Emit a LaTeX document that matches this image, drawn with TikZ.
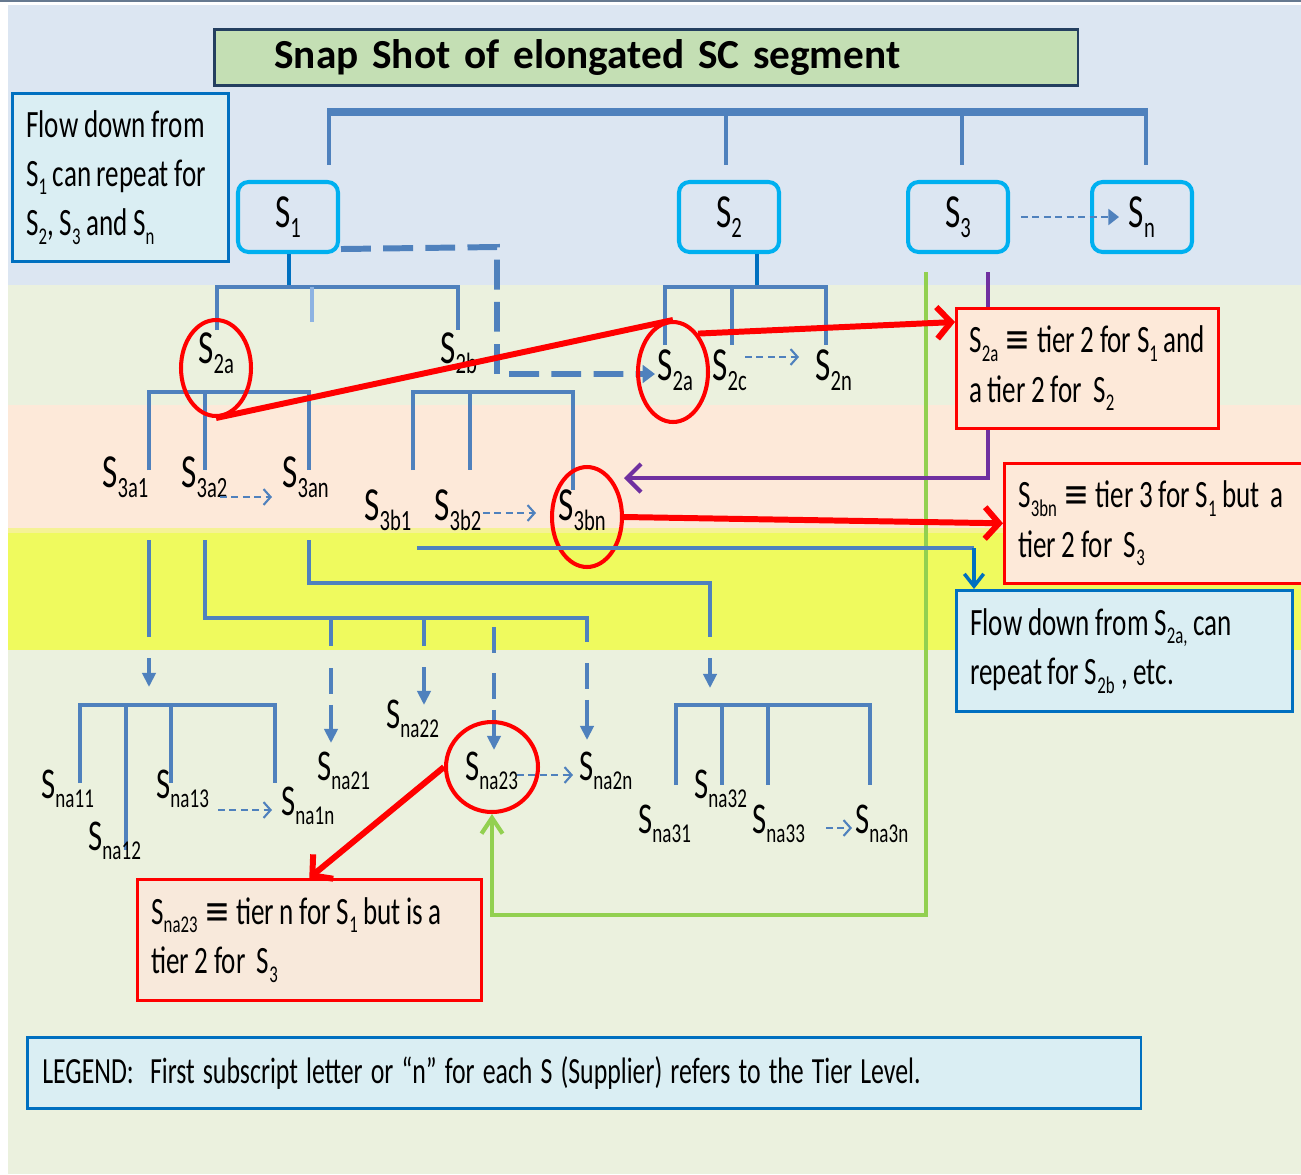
\documentclass[tikz,border=0pt]{standalone}
\usepackage{graphicx}
\usepackage{fontspec}
\setmainfont{Carlito}
\newfontfamily\nf[FakeStretch=0.7]{Carlito}
\newfontfamily\dvf[FakeStretch=0.8]{DejaVu Sans}
\usetikzlibrary{arrows.meta,calc,shapes.geometric}
\definecolor{bgblue}{RGB}{220,230,242}
\definecolor{bggreen}{RGB}{235,241,222}
\definecolor{bgpeach}{RGB}{253,233,217}
\definecolor{bgyellow}{RGB}{239,250,94}
\definecolor{treeb}{RGB}{79,129,189}
\definecolor{lightb}{RGB}{141,179,226}
\definecolor{darkb}{RGB}{0,112,192}
\definecolor{cyanb}{RGB}{0,176,240}
\definecolor{grn}{RGB}{146,208,80}
\definecolor{purp}{RGB}{112,48,160}
\definecolor{titlefill}{RGB}{196,223,180}
\definecolor{titledraw}{RGB}{36,63,96}
\definecolor{infofill}{RGB}{218,238,243}
\definecolor{redfill}{RGB}{253,233,217}
\definecolor{redfillb}{RGB}{248,233,219}
\newcommand\sbs[1]{\raisebox{-0.22em}{\scalebox{0.62}{#1}}}
\newcommand\eqv{{\dvf ≡}}
\newcommand\ws{\hspace{3.2pt}}
\newcommand\wl{\hspace{4.6pt}}
\tikzset{
  tree/.style={draw=treeb, line width=2.4pt},
  ltree/.style={draw=lightb, line width=2.4pt},
  dtree/.style={draw=darkb, line width=2.4pt},
  sdash/.style={draw=treeb, line width=1.2pt, dash pattern=on 4pt off 2.5pt, -{Straight Barb[length=4pt,width=9pt]}},
  tdash/.style={draw=treeb, line width=2.4pt, dash pattern=on 15pt off 6pt, -{Triangle[length=8pt,width=7.5pt]}},
  tarr/.style={draw=treeb, line width=2.4pt, -{Triangle[length=8pt,width=7.5pt]}},
  redline/.style={draw=red, line width=3.4pt, line join=round},
  redarr/.style={redline, -{Straight Barb[length=8pt,width=18pt]}},
  purparr/.style={draw=purp, line width=2.4pt, -{Straight Barb[length=8pt,width=16pt]}},
  grnarr/.style={draw=grn, line width=2.4pt, -{Straight Barb[length=9pt,width=12pt]}},
  darkarr/.style={draw=darkb, line width=2pt, -{Straight Barb[length=7pt,width=11pt]}},
  sbox/.style={draw=cyanb, line width=2.3pt, rounded corners=6pt, fill=bgblue, minimum width=2cm, minimum height=1.4cm, inner sep=0pt, font=\nf\fontsize{27}{30}\selectfont},
  lab/.style={inner sep=0pt, anchor=base west, font=\nf\fontsize{27}{30}\selectfont},
  labn/.style={inner sep=0pt, anchor=base west, font=\nf\fontsize{25}{28}\selectfont},
  infobox/.style={draw=darkb, line width=1.5pt, fill=infofill, anchor=north west, align=left, inner ysep=0pt, font=\nf\fontsize{22}{28}\selectfont},
  redbox/.style={draw=red, line width=1.5pt, fill=redfill, anchor=north west, align=left, inner ysep=0pt, font=\nf\fontsize{22}{28}\selectfont},
  ring/.style={draw=red, line width=2.3pt, ellipse, inner sep=0pt}
}
\begin{document}
\begin{tikzpicture}[x=0.02cm,y=-0.02cm]
\useasboundingbox (0,0) rectangle (1301,1174);
% backgrounds
\fill[white] (0,0) rectangle (1301,1174);
\fill[bgblue] (8,5) rectangle (1301,285);
\fill[bggreen] (8,285) rectangle (1301,405);
\fill[bgpeach] (8,405) rectangle (1301,528);
\fill[bgyellow!55!bgpeach] (8,528) rectangle (1301,533);
\fill[bgyellow] (8,533) rectangle (1301,650);
\fill[bggreen] (8,650) rectangle (1301,1174);
\draw[titledraw!70, line width=1pt] (0,1) -- (1301,1);

% title and first info box
\node[draw=titledraw, line width=1.5pt, fill=titlefill, anchor=north west,
      minimum width=17.28cm, minimum height=1.12cm, text width=14.88cm,
      inner xsep=1.2cm, inner ysep=0pt, align=left,
      font=\bfseries\fontsize{23.5}{28}\selectfont] (title) at (213,28) {\mbox{Snap Shot of elongated SC segment}};
\node[infobox, minimum width=4.32cm, minimum height=3.36cm, text width=3.76cm, inner xsep=0.28cm] (flow1) at (11,92)
  {\mbox{Flow\ws down\ws from}\\ \mbox{S\sbs{1}\ws can\ws repeat\ws for}\\ \mbox{S\sbs{2},\ws S\sbs{3}\ws and\ws S\sbs{n}}};

% top bracket
\draw[tree, line width=4pt] (327,112) -- (1148,112);
\draw[tree] (329,112) -- (329,165);
\draw[tree] (726,112) -- (726,165);
\draw[tree] (962,112) -- (962,165);
\draw[tree] (1146,112) -- (1146,165);

% tier 1 boxes
\node[sbox] (s1) at (288,217) {S\sbs{1}};
\node[sbox] (s2) at (729,217) {S\sbs{2}};
\node[sbox] (s3) at (958,217) {S\sbs{3}};
\node[sbox] (sn) at (1142,217) {S\sbs{n}};
\draw[draw=treeb, line width=1.4pt, dash pattern=on 4pt off 2.5pt, -{Triangle[length=6pt,width=9pt]}]
  ($(s3.east)+(11,0)$) -- ($(sn.west)+(29,0)$);

% S1 dashed flow to S2a (of S2)
\draw[draw=treeb, line width=3.4pt, dash pattern=on 17pt off 7pt, -{Triangle[length=7pt,width=10pt]}]
  ($(s1.south east)+(1,-5)$) -- (497,247) -- (497,374) -- (655,374);

% S1 subtree
\draw[dtree] (s1.south -| 289,0) -- (289,287);
\draw[tree] (217,330) -- (217,287) -- (458,287) -- (458,330);
\draw[ltree] (312,287) -- (312,322);
\draw[tree] (149,470) -- (149,392) -- (309,392) -- (309,470);
\draw[tree] (205,392) -- (205,470);
\draw[tree] (413,470) -- (413,392) -- (573,392) -- (573,490);
\draw[tree] (470,392) -- (470,470);

% S2 subtree
\draw[dtree] (s2.south -| 757,0) -- (757,287);
\draw[tree] (665,345) -- (665,287) -- (826,287) -- (826,345);
\draw[tree] (732,287) -- (732,345);

% yellow band connectors
\draw[tree] (149,540) -- (149,637);
\draw[tarr] (149,658) -- (149,687);
\draw[tree] (205,540) -- (205,618) -- (587,618) -- (587,642);
\draw[tree] (331,618) -- (331,646);
\draw[tdash] (331,668) -- (331,743);
\draw[tree] (424,618) -- (424,646);
\draw[tarr] (424,667) -- (424,705);
\draw[tree] (494,627) -- (494,653);
\draw[tdash] (494,673) -- (494,750);
\draw[tdash] (587,663) -- (587,740);
\draw[tree] (309,540) -- (309,583) -- (710,583) -- (710,637);
\draw[tarr] (710,658) -- (710,688);

% tier n brackets
\draw[tree] (80,783) -- (80,705) -- (275,705) -- (275,783);
\draw[tree] (126,705) -- (126,850);
\draw[tree] (171,705) -- (171,783);
\draw[tree] (676,785) -- (676,705) -- (870,705) -- (870,785);
\draw[tree] (722,705) -- (722,785);
\draw[tree] (768,705) -- (768,785);

% rings
\node[ring, minimum width=1.4cm, minimum height=1.92cm] (e2a) at (216,368) {};
\node[ring, minimum width=1.4cm, minimum height=2cm] (e2aR) at (673,372) {};
\node[ring, minimum width=1.4cm, minimum height=2cm] (e3bn) at (587,517) {};
\node[ring, minimum width=1.84cm, minimum height=1.8cm] (ena23) at (492,767) {};

% green, purple, blue long connectors
\coordinate (g0) at (926,272);
\coordinate (g1) at (492,915);
\draw[grnarr] (g0) |- (g1) -- (ena23.south);
\coordinate (p0) at (988,272);
\coordinate (p1) at (624,478);
\draw[purparr] (p0) |- (p1);
\coordinate (b0) at (417,548);
\coordinate (b1) at (974,548);
\draw[tree] (b0) -- (b1);

% annotation boxes
\node[redbox, minimum width=5.24cm, minimum height=2.4cm, text width=4.72cm, inner xsep=0.26cm] (red1) at (955,307)
  {\mbox{S\sbs{2a}\,\eqv\,tier\ws 2\ws for\ws S\sbs{1}\ws and}\\ \mbox{a\ws tier\ws 2\ws for\ws\ws S\sbs{2}}};
\node[redbox, minimum width=6.14cm, minimum height=2.4cm, text width=5.58cm, inner xsep=0.28cm] (red2) at (1003,462)
  {\mbox{S\sbs{3bn}\,\eqv\,tier\ws 3\ws for\ws S\sbs{1}\ws but\ws\ws a}\\ \mbox{tier\ws 2\ws for\ws\ws S\sbs{3}}};
\node[infobox, minimum width=6.72cm, minimum height=2.42cm, text width=6.16cm, inner xsep=0.28cm] (flow2) at (955,589)
  {\mbox{Flow\ws down\ws from\ws S\sbs{2a,}\ws can}\\ \mbox{repeat\ws for\ws S\sbs{2b}\,,\ws etc.}};
\node[redbox, fill=redfillb, minimum width=6.88cm, minimum height=2.42cm, text width=6.32cm, inner xsep=0.28cm] (red3) at (136,878)
  {\mbox{S\sbs{na23}\,\eqv\,tier\ws n\ws for\ws S\sbs{1}\ws but\ws is\ws a}\\ \mbox{tier\ws 2\ws for\ws\ws S\sbs{3}}};
\node[infobox, minimum width=22.28cm, minimum height=1.42cm, text width=21.68cm, inner xsep=0.3cm, font=\nf\fontsize{21}{26}\selectfont] (legend) at (26,1036)
  {\mbox{LEGEND:\wl\wl First\wl subscript\wl letter\wl or\wl “n”\wl for\wl each\wl S\wl (Supplier)\wl refers\wl to\wl the\wl Tier\wl Level.}};
\draw[darkarr] (b1) -- (b1 |- flow2.north);

% labels tier 2 / 3
\node[lab] (l2a) at (198,363) {S\sbs{2a}};
\node[lab] (l2b) at (440,363) {S\sbs{2b}};
\node[lab] (l3a1) at (102,487) {S\sbs{3a1}};
\node[lab] (l3a2) at (181,487) {S\sbs{3a2}};
\node[lab] (l3an) at (282,487) {S\sbs{3an}};
\node[lab] (l3b1) at (364,520) {S\sbs{3b1}};
\node[lab] (l3b2) at (434,520) {S\sbs{3b2}};
\node[lab] (l3bn) at (558,520) {S\sbs{3bn}};
\node[lab] (r2a) at (657,380) {S\sbs{2a}};
\node[lab] (r2c) at (712,380) {S\sbs{2c}};
\node[lab] (r2n) at (815,380) {S\sbs{2n}};
% labels tier n
\node[labn] (na11) at (41,798) {S\sbs{na11}};
\node[labn] (na12) at (88,850) {S\sbs{na12}};
\node[labn] (na13) at (156,798) {S\sbs{na13}};
\node[labn] (na1n) at (281,815) {S\sbs{na1n}};
\node[labn] (na21) at (317,780) {S\sbs{na21}};
\node[labn] (na22) at (386,728) {S\sbs{na22}};
\node[labn] (na23) at (465,780) {S\sbs{na23}};
\node[labn] (na2n) at (579,780) {S\sbs{na2n}};
\node[labn] (na31) at (638,833) {S\sbs{na31}};
\node[labn] (na32) at (694,798) {S\sbs{na32}};
\node[labn] (na33) at (752,833) {S\sbs{na33}};
\node[labn] (na3n) at (855,833) {S\sbs{na3n}};

% small dashed arrows
\draw[sdash] (220,497) -- (272,497);
\draw[sdash] (483,513) -- (536,513);
\draw[sdash] (745,357) -- (799,357);
\draw[sdash] (218,810) -- (272,810);
\draw[sdash] (517,775) -- (573,775);
\draw[sdash] (826,828) -- (852,828);

% red arrows
\draw[redline] (e2a.south) -- (e2aR.north);
\draw[redarr] (e2aR.57) -- ($(red1.north west)+(0,15)$);
\draw[redarr] (e3bn.east) -- (red2.west);
\draw[redarr] (ena23.west) -- (red3.north);
\end{tikzpicture}
\end{document}
